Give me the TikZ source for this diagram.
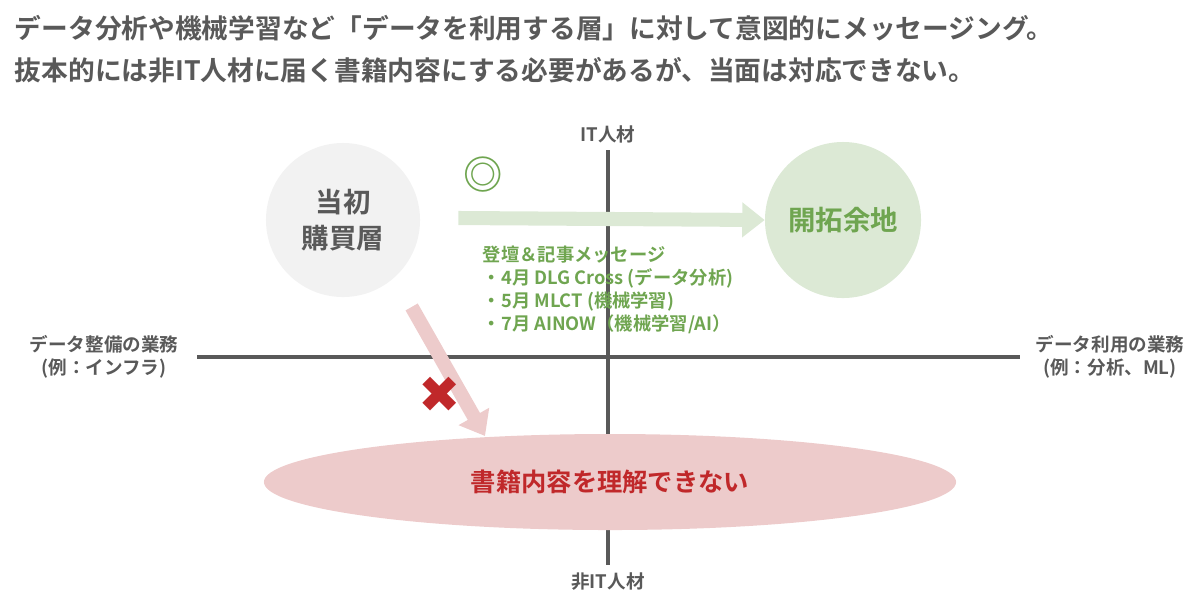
\documentclass[tikz,border=0pt]{standalone}
\usepackage{fontspec}
\setmainfont{Noto Sans CJK JP}[BoldFont={* Bold}]
\newfontfamily\symfont{DejaVu Sans}
\usetikzlibrary{
  arrows.meta,
  calc,
  positioning,
  shapes.geometric
}
\definecolor{ink}{HTML}{595959}
\definecolor{leaf}{HTML}{6FA550}
\definecolor{leaflight}{HTML}{DCE9D5}
\definecolor{rose}{HTML}{EDCBCB}
\definecolor{blood}{HTML}{C0282A}
\tikzset{
%
  % For the two axes.
  axis/.style={
    draw=ink,
    line width=3pt},
%
  % For the axis labels.
  axis label/.style={
    text=ink,
    font=\fontsize{13.2pt}{16pt}\selectfont\bfseries,
    align=center},
%
  % For the round groups.
  group/.style={
    circle,
    font=\fontsize{19.5pt}{26pt}\selectfont\bfseries,
    align=center},
%
  % For the wide arrows.
  wide arrow/.style={
    line width=10pt,
    -{Triangle[length=16pt,width=24pt]}}
}
\begin{document}
\begin{tikzpicture}[x=0.025cm,y=-0.025cm]
  \useasboundingbox (0,0) rectangle (1200,608);

  \node[anchor=west,text=ink,font=\fontsize{19pt}{24pt}\selectfont\bfseries] (T1) at (10,28)
    {データ分析や機械学習など「データを利用する層」に対して意図的にメッセージング。};
  \node[anchor=west,text=ink,font=\fontsize{19pt}{24pt}\selectfont\bfseries] (T2) at (10,70)
    {抜本的には非IT人材に届く書籍内容にする必要があるが、当面は対応できない。};

  \coordinate (Top) at (608,150);
  \coordinate (Bot) at (608,565);
  \coordinate (Lft) at (197,357);
  \coordinate (Rgt) at (1020,357);
  \draw[axis] (Top) -- (Bot);
  \draw[axis] (Lft) -- (Rgt);

  \node[axis label] (IT) at (608,134) {IT人材};
  \node[axis label] (NonIT) at (608,582) {非IT人材};
  \node[axis label] (Prep) at (104,357) {データ整備の業務\\(例：インフラ)};
  \node[axis label] (Use) at (1110,357) {データ利用の業務\\(例：分析、ML)};

  \node[ellipse,fill=rose,minimum width=17.3cm,minimum height=2.4cm,
        text=blood,font=\fontsize{18pt}{22pt}\selectfont\bfseries] (Fail) at (610,482)
    {書籍内容を理解できない};

  \node[group,fill=black!5,text=ink,minimum size=3.85cm] (Init) at (343,220) {当初\\購買層};
  \node[group,fill=leaflight,text=leaf,minimum size=3.9cm] (Open) at (843,220) {開拓余地};

  \draw[wide arrow,leaflight] ($(Init.east)+(38,-2)$) -- (Open.west);
  \coordinate (Hit) at (485,436);
  \draw[wide arrow,rose] ($(Init.-60)+(30,20)$) -- (Hit);

  \node[text=leaf,font=\fontsize{28pt}{28pt}\selectfont\bfseries] (Good) at (483,175) {◎};
  \node[text=blood,font=\symfont\fontsize{36pt}{36pt}\selectfont] (Bad) at (440,395) {✖};

  \node[anchor=north west,text=leaf,align=left,
        font=\fontsize{13pt}{16.3pt}\selectfont\bfseries] (Msg) at (478,241)
    {登壇＆記事メッセージ\\
     ・4月 DLG Cross (データ分析)\\
     ・5月 MLCT (機械学習)\\
     ・7月 AINOW（機械学習/AI）};
\end{tikzpicture}
\end{document}
